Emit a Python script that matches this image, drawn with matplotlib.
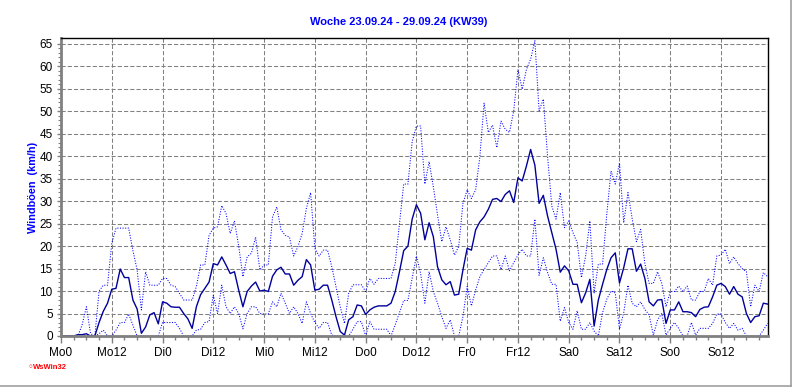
import numpy as np
import matplotlib
matplotlib.use("Agg")
from matplotlib import pyplot as plt
from matplotlib.lines import Line2D

plt.rcParams['font.family'] = ['Liberation Sans', 'DejaVu Sans']

# hourly values, Mo 23.09.24 00:00 onwards (km/h)
boeen_mittel = [
    0, 0, 0, 0, 0.3, 0.3, 0.5, 0, 0, 3, 5.5, 7.3, 10.4, 10.6, 14.9, 13, 13, 8, 6, 0.6, 2, 4.7, 5.2, 2.7,
    7.6, 7.3, 6.5, 6.4, 6.4, 5, 3.8, 1.7, 6.5, 9.2, 10.6, 12, 16.1, 15.8, 17.6, 15.8, 13.9, 14.3, 10.2, 6.5, 9.9, 11.1, 12, 10,
    10.2, 9.9, 13.3, 14.7, 15.3, 13.8, 13.8, 11.3, 12.4, 13.2, 17, 15.8, 10.2, 10.4, 11.3, 11.3, 8, 4.3, 1, 0.2, 3.6, 4.3, 6.9, 6.7,
    4.8, 5.8, 6.4, 6.7, 6.7, 6.7, 7.3, 9.9, 14.3, 19, 20, 26, 29.2, 27.3, 21.4, 25.2, 22.1, 15.4, 12.5, 11.4, 12.1, 9.1, 9.3, 14.7,
    19.5, 19.1, 23.6, 25.4, 26.5, 28.2, 30.4, 30.6, 29.9, 31.5, 32.3, 29.7, 35.2, 34.5, 37.8, 41.5, 38, 29.5, 31.3, 26.7, 23, 19.3, 14.2, 15.6,
    14.5, 11.5, 11.5, 7.4, 9.6, 12.6, 2.2, 8, 11.5, 14.8, 17.4, 18.5, 11.8, 15.2, 19.4, 19.4, 14.4, 16, 12.8, 7.6, 6.7, 8, 8.1, 2.8,
    5.8, 5.8, 7.6, 5.4, 5.4, 5.2, 4.3, 5.9, 6.4, 6.5, 8.7, 11.3, 11.7, 11, 9.3, 11, 9.3, 8.7, 5, 3, 4.3, 4.5, 7.3, 7.1,
]
boeen_max = [
    0, 0, 0, 0, 0, 2.5, 6.5, 0.5, 0, 10, 11.3, 11.3, 20.6, 24, 24, 24, 24, 19, 14.7, 5.8, 14.3, 11.3, 11.3, 11.3,
    12.8, 12.8, 11.3, 11, 9.5, 8, 8, 8, 11, 15.8, 15.8, 22.4, 24, 24.3, 29, 27.3, 22.8, 25.6, 20, 13.2, 17.6, 18.4, 22, 14.7,
    15.8, 15.8, 26.5, 28.7, 23.6, 22.4, 22, 17.8, 19.9, 22.8, 28.4, 31.9, 19.5, 17.8, 19.1, 19.1, 15.4, 11, 6.5, 2.8, 9.5, 11.4, 11.4, 11.4,
    9.9, 12.8, 11.5, 12.8, 12.8, 12.8, 12.8, 16.2, 25.1, 33.8, 33.8, 43.2, 46.7, 46.7, 33.8, 38.8, 33.2, 26.9, 21, 24.3, 21.4, 18, 19.9, 29.5,
    32.5, 30.6, 32.5, 39.9, 51.8, 45.3, 46.9, 41.9, 47.8, 46, 45.3, 50.1, 59.3, 54.9, 59.3, 61.6, 65.7, 50.1, 52.7, 40, 28.9, 26, 31.9, 24.1,
    25.6, 23, 20.8, 13, 17.8, 25.6, 9.6, 16, 16, 27.1, 36.7, 33.8, 38.5, 25.2, 31.9, 26.1, 21, 23.7, 16.1, 11.7, 11.7, 14.3, 11.7, 6.5,
    9.9, 9.9, 11.1, 9.9, 11.1, 8, 8, 9.9, 9.9, 12.8, 11.3, 17.8, 18, 19.3, 16.1, 17.6, 16.1, 15, 14.3, 6.5, 11.3, 9.9, 14.1, 13.2,
]
boeen_min = [
    0, 0, 0, 0, 0, 0, 0, 0, 0, 0.5, 1.3, 0, 0, 1.3, 3, 3, 4.9, 2.4, 0, 0, 0, 0, 0, 0,
    3, 3, 3, 3, 1.7, 0, 0, 0, 1.3, 1.5, 3, 3.2, 9.1, 5, 11.3, 6.5, 5, 6.5, 5, 1.6, 5, 6.5, 6.5, 5,
    4.9, 4.9, 7.6, 6.5, 9.5, 7.3, 5, 6.5, 5, 2.8, 7.6, 5, 3, 1.7, 3, 3, 0.2, 0, 0, 0, 0, 1.5, 3.2, 3.2,
    0, 3.2, 1.5, 1.5, 1.5, 1.5, 0, 2.5, 5.2, 7.9, 7.9, 12.8, 17.8, 13.9, 7.3, 14.3, 9.9, 7.3, 4.3, 1.7, 3.6, 0, 0, 4.3,
    11, 6.7, 10.2, 13.2, 14.8, 16.3, 17.8, 17.8, 14.8, 17.8, 14.5, 16.3, 18, 19.3, 17.8, 17.8, 26, 13.5, 17.4, 14.1, 11.5, 11.5, 3.3, 6.3,
    3, 1.5, 5.6, 1.5, 1.5, 3, 1.1, 0, 5.2, 8.2, 10, 9.6, 1.5, 5.2, 11.3, 7.3, 6.5, 7.6, 5.9, 4.7, 0.2, 3.6, 5, 0.2,
    1.7, 3, 1.7, 0, 0, 3, 0.2, 1.7, 1.7, 1.7, 2.8, 4.9, 4.9, 3, 1.7, 2.8, 1.3, 1.7, 0, 0, 0, 0, 1.3, 2.8,
]
tag_labels = ['Mo0', 'Mo12', 'Di0', 'Di12', 'Mi0', 'Mi12', 'Do0', 'Do12',
              'Fr0', 'Fr12', 'Sa0', 'Sa12', 'So0', 'So12']
titel = 'Woche 23.09.24 - 29.09.24 (KW39)'

stunden = np.arange(len(boeen_mittel))

fig = plt.figure(figsize=(7.92, 3.87), dpi=100)
ax = fig.add_axes([0.0770, 0.1318, 0.8927, 0.7700])

grau = '#808080'
ax.grid(True, color=grau, linestyle=(0, (4, 2)), linewidth=0.75)
ax.set_axisbelow(True)

ax.plot(stunden, boeen_max, color='#0000ff', linewidth=0.75, linestyle=(0, (1, 1.5)))
ax.plot(stunden, boeen_min, color='#0000ff', linewidth=0.75, linestyle=(0, (1, 1.5)))
ax.plot(stunden, boeen_mittel, color='#00009c', linewidth=1.0)

ax.set_xlim(0, 167.1)
ax.set_ylim(0, 66.3)
ax.set_xticks(np.arange(0, 168, 12))
ax.set_xticklabels(tag_labels)
ax.set_xticks(np.arange(0, 168, 3), minor=True)
ax.set_yticks(np.arange(0, 66, 5))
ax.set_yticks(np.arange(0, 66, 1), minor=True)

ax.tick_params(axis='both', which='major', labelsize=8.5, colors=grau, labelcolor='black')
ax.tick_params(axis='x', which='major', length=5, width=1, pad=3)
ax.tick_params(axis='x', which='minor', length=3, width=1, colors=grau)
ax.tick_params(axis='y', which='major', length=3, width=1, pad=3)
ax.tick_params(axis='y', which='minor', length=2, width=0.8, colors=grau)

for s in ['left', 'bottom']:
    ax.spines[s].set_color(grau)
    ax.spines[s].set_linewidth(2)
for s in ['top', 'right']:
    ax.spines[s].set_color('black')
    ax.spines[s].set_linewidth(1)

ax.set_ylabel('Windböen  (km/h)', color='#0000ff', fontsize=7.8, fontweight='bold', labelpad=1)
fig.text(0.504, 0.943, titel, color='#0000ff', fontsize=8, fontweight='bold', ha='center', va='center')

# WsWin32 marker
fig.text(0.0355, 0.052, '\u25cb', color='red', fontsize=4.5, fontweight='bold', ha='left', va='center')
fig.text(0.0415, 0.051, 'WsWin32', color='red', fontsize=5.5, fontweight='bold', ha='left', va='center')

# figure frame
fig.add_artist(Line2D([0, 0.9985], [0.003, 0.003], color='#a0a0a0', linewidth=1.2, transform=fig.transFigure))
fig.add_artist(Line2D([0.9985, 0.9985], [0.003, 1], color='#a0a0a0', linewidth=1.2, transform=fig.transFigure))

fig.savefig('out.png', dpi=100)
